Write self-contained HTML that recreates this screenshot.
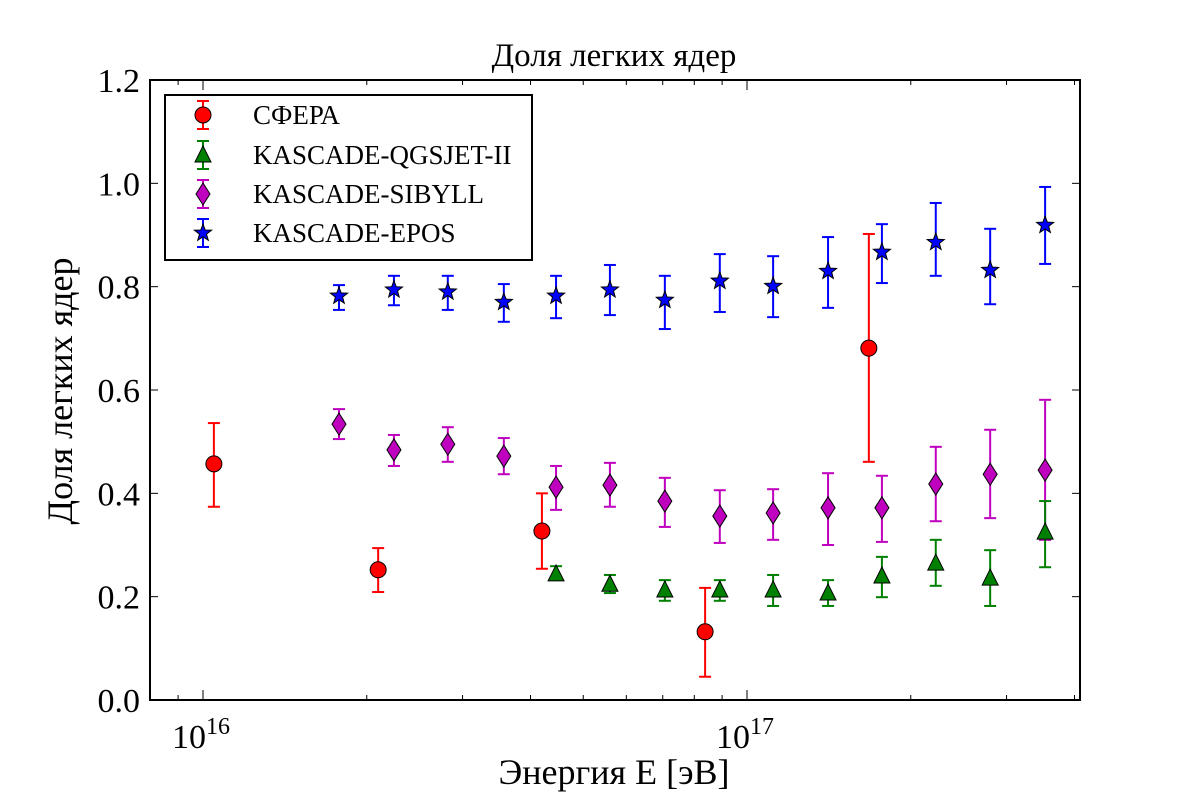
<!DOCTYPE html>
<html><head><meta charset="utf-8"><style>
body{margin:0;background:#fff}
svg text{font-family:"Liberation Serif",serif;fill:#000}
</style></head><body>
<svg id="chart" width="1200" height="800" xmlns="http://www.w3.org/2000/svg">
<rect width="1200" height="800" fill="#fff"/>
<g id="marks"></g>
<g id="axes"></g>
</svg>
<script>
const sferaExp=[16.020,16.322,16.623,16.923,17.224];
const sferaVal=[0.457,0.252,0.327,0.132,0.681];
const sferaLo=[0.374,0.209,0.254,0.045,0.461];
const sferaHi=[0.536,0.294,0.400,0.217,0.902];
const kasExp=[16.25,16.351,16.450,16.553,16.649,16.748,16.849,16.950,17.048,17.149,17.248,17.347,17.447,17.548];
const eposVal=[0.782,0.794,0.790,0.770,0.782,0.794,0.774,0.811,0.801,0.830,0.867,0.886,0.832,0.919];
const eposLo=[0.755,0.764,0.755,0.732,0.739,0.745,0.718,0.751,0.741,0.759,0.807,0.821,0.766,0.844];
const eposHi=[0.803,0.821,0.821,0.805,0.821,0.842,0.821,0.863,0.859,0.896,0.921,0.962,0.912,0.993];
const sibVal=[0.534,0.484,0.495,0.472,0.412,0.416,0.385,0.356,0.362,0.372,0.372,0.418,0.437,0.445];
const sibLo=[0.505,0.453,0.461,0.437,0.368,0.374,0.335,0.304,0.310,0.300,0.306,0.346,0.352,0.310];
const sibHi=[0.563,0.513,0.528,0.507,0.453,0.459,0.430,0.406,0.408,0.439,0.434,0.490,0.523,0.581];
const qgsExp=[16.649,16.748,16.849,16.950,17.048,17.149,17.248,17.347,17.447,17.548];
const qgsVal=[0.244,0.224,0.213,0.213,0.213,0.207,0.240,0.265,0.236,0.325];
const qgsLo=[0.234,0.207,0.192,0.192,0.182,0.182,0.199,0.221,0.182,0.257];
const qgsHi=[0.259,0.242,0.232,0.232,0.242,0.232,0.277,0.310,0.290,0.385];
const yTicks=[0.0,0.2,0.4,0.6,0.8,1.0,1.2];
const xMajor=[16,17];

const L=150,R=1080,T=80,B=700;
const X=e=>203+(e-16)*544;
const Y=v=>B-(v-0)/1.2*(B-T);
const NS='http://www.w3.org/2000/svg';
function mk(tag,attrs,parent){const el=document.createElementNS(NS,tag);for(const k in attrs)el.setAttribute(k,attrs[k]);parent.appendChild(el);return el;}
const marks=document.getElementById('marks'),axes=document.getElementById('axes');

function star(cx,cy,r){let p=[];for(let i=0;i<10;i++){const a=-Math.PI/2+i*Math.PI/5;const rr=i%2?r*0.42:r;p.push((cx+rr*Math.cos(a)).toFixed(1)+','+(cy+rr*Math.sin(a)).toFixed(1));}return p.join(' ');}
function marker(type,cx,cy,parent,color){
  let el;
  if(type==='circle')el=mk('circle',{cx,cy,r:8,fill:color,stroke:'#000','stroke-width':1},parent);
  else if(type==='tri')el=mk('polygon',{points:`${cx},${cy-9} ${cx+8},${cy+7} ${cx-8},${cy+7}`,fill:color,stroke:'#000','stroke-width':1},parent);
  else if(type==='dia')el=mk('polygon',{points:`${cx},${cy-11} ${cx+7},${cy} ${cx},${cy+11} ${cx-7},${cy}`,fill:color,stroke:'#000','stroke-width':1},parent);
  else el=mk('polygon',{points:star(cx,cy,9),fill:color,stroke:'#000','stroke-width':1},parent);
  return el;
}
function series(name,exps,vals,lo,hi,type,color){
  const g=mk('g',{},marks);
  
  
  exps.forEach((e,i)=>{
    const x=X(e);
    const eb=mk('g',{stroke:color,'stroke-width':2},g);
    
    
    mk('line',{x1:x,x2:x,y1:Y(lo[i]),y2:Y(hi[i])},eb);
    mk('line',{x1:x-6,x2:x+6,y1:Y(lo[i]),y2:Y(lo[i])},eb);
    mk('line',{x1:x-6,x2:x+6,y1:Y(hi[i]),y2:Y(hi[i])},eb);
    const m=marker(type,x,Y(vals[i]),g,color);
    
    
  });
}
series('sfera',sferaExp,sferaVal,sferaLo,sferaHi,'circle','#ff0000');
series('kascade-epos',kasExp,eposVal,eposLo,eposHi,'star','#0000ff');
series('kascade-sibyll',kasExp,sibVal,sibLo,sibHi,'dia','#bf00bf');
series('kascade-qgsjet',qgsExp,qgsVal,qgsLo,qgsHi,'tri','#008000');

const fr=mk('rect',{x:L,y:T,width:R-L,height:B-T,fill:'none',stroke:'#000','stroke-width':2},axes);


yTicks.forEach(v=>{
  const y=Y(v);
  mk('line',{x1:L,x2:L+8,y1:y,y2:y,stroke:'#000','stroke-width':1},axes);
  mk('line',{x1:R,x2:R-8,y1:y,y2:y,stroke:'#000','stroke-width':1},axes);
  const t=mk('text',{x:L-10,y:y+12,'text-anchor':'end','font-size':34},axes);
  t.textContent=v.toFixed(1);
  
  
});
for(let d=15;d<=17;d++){for(let k=1;k<=9;k++){
  const e=d+Math.log10(k);const x=X(e);
  if(x<L||x>R)continue;
  const len=k===1?10:5;
  mk('line',{x1:x,x2:x,y1:B,y2:B-len,stroke:'#000','stroke-width':1},axes);
  mk('line',{x1:x,x2:x,y1:T,y2:T+len,stroke:'#000','stroke-width':1},axes);
}}
xMajor.forEach(e=>{
  const t=mk('text',{x:X(e)-31,y:B+48,'font-size':34},axes);
  t.textContent='10';
  const s=mk('tspan',{dy:-14,'font-size':24},t);
  s.textContent=String(e);
  
  
});
</script>
<svg style="position:absolute;left:0;top:0" width="1200" height="800" xmlns="http://www.w3.org/2000/svg">
<text x="614" y="66" text-anchor="middle" font-size="33">Доля легких ядер</text>
<text x="614" y="784" text-anchor="middle" font-size="36">Энергия E [эВ]</text>
<text transform="translate(72,391) rotate(-90)" text-anchor="middle" font-size="36">Доля легких ядер</text>
<g>
<rect x="165" y="95" width="367" height="165" fill="#fff" stroke="#000" stroke-width="2"/>
<g>
<line x1="203" x2="203" y1="101" y2="129" stroke="#ff0000" stroke-width="2"/><line x1="197" x2="209" y1="101" y2="101" stroke="#ff0000" stroke-width="2"/><line x1="197" x2="209" y1="129" y2="129" stroke="#ff0000" stroke-width="2"/>
<circle cx="203" cy="115" r="8" fill="#ff0000" stroke="#000"/>
<text x="253" y="124" font-size="27">СФЕРА</text></g>
<g>
<line x1="203" x2="203" y1="141" y2="169" stroke="#008000" stroke-width="2"/><line x1="197" x2="209" y1="141" y2="141" stroke="#008000" stroke-width="2"/><line x1="197" x2="209" y1="169" y2="169" stroke="#008000" stroke-width="2"/>
<polygon points="203,146 211,162 195,162" fill="#008000" stroke="#000"/>
<text x="253" y="164" font-size="27">KASCADE-QGSJET-II</text></g>
<g>
<line x1="203" x2="203" y1="180" y2="208" stroke="#bf00bf" stroke-width="2"/><line x1="197" x2="209" y1="180" y2="180" stroke="#bf00bf" stroke-width="2"/><line x1="197" x2="209" y1="208" y2="208" stroke="#bf00bf" stroke-width="2"/>
<polygon points="203,183 210,194 203,205 196,194" fill="#bf00bf" stroke="#000"/>
<text x="253" y="203" font-size="27">KASCADE-SIBYLL</text></g>
<g>
<line x1="203" x2="203" y1="219" y2="247" stroke="#0000ff" stroke-width="2"/><line x1="197" x2="209" y1="219" y2="219" stroke="#0000ff" stroke-width="2"/><line x1="197" x2="209" y1="247" y2="247" stroke="#0000ff" stroke-width="2"/>
<polygon points="203,224 205.2,230 211.6,230.2 206.5,234.1 208.3,240.3 203,236.7 197.7,240.3 199.5,234.1 194.4,230.2 200.8,230" fill="#0000ff" stroke="#000"/>
<text x="253" y="242" font-size="27">KASCADE-EPOS</text></g>
</g>
</svg>
</body></html>
